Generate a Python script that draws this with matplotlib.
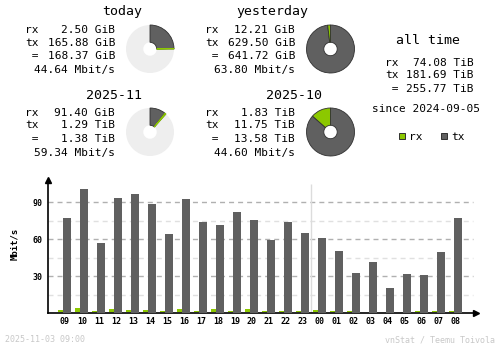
#!/usr/bin/env python
import matplotlib
matplotlib.use('Agg')
import matplotlib.pyplot as plt
from matplotlib.patches import Wedge, Rectangle

# hourly traffic, Mbit/s
hours = ['09', '10', '11', '12', '13', '14', '15', '16', '17', '18', '19', '20',
         '21', '22', '23', '00', '01', '02', '03', '04', '05', '06', '07', '08']
tx_rate = [77.3, 100.8, 57.0, 93.5, 96.8, 88.6, 64.3, 92.7, 74.1, 71.6, 82.2, 75.7,
           59.7, 74.1, 65.1, 61.1, 50.5, 32.7, 41.6, 20.5, 31.9, 31.1, 49.7, 77.3]
rx_rate = [1.9, 3.5, 1.0, 2.7, 1.9, 1.9, 1.0, 2.7, 1.0, 2.7, 1.0, 2.7,
           1.0, 1.0, 1.0, 1.9, 1.0, 1.0, 0.3, 0.3, 0.3, 1.0, 1.0, 1.0]

# summary blocks: title, rx, tx, total, rate
blk_titles = ['today', 'yesterday', '2025-11', '2025-10']
blk_rx = ['2.50 GiB', '12.21 GiB', '91.40 GiB', '1.83 TiB']
blk_tx = ['165.88 GiB', '629.50 GiB', '1.29 TiB', '11.75 TiB']
blk_total = ['168.37 GiB', '641.72 GiB', '1.38 TiB', '13.58 TiB']
blk_rate = ['44.64 Mbit/s', '63.80 Mbit/s', '59.34 Mbit/s', '44.60 Mbit/s']
# rx/tx in a common unit for the pies, and share of the period covered
pie_rx = [2.50, 12.21, 91.40, 1830.0]
pie_tx = [165.88, 629.50, 1290.0, 11750.0]
pie_fill = [0.25, 1.0, 0.115, 1.0]

alltime_rx = '74.08 TiB'
alltime_tx = '181.69 TiB'
alltime_total = '255.77 TiB'
since = 'since 2024-09-05'
stamp = '2025-11-03 09:00'

c_rx = '#8cc800'
c_tx = '#606060'
c_edge = '#303030'
c_pie_bg = '#eeeeee'
mono = 'DejaVu Sans Mono'
plt.rcParams['lines.scale_dashes'] = False

fig = plt.figure(figsize=(5.0, 3.48), dpi=100)
fig.patch.set_facecolor('white')

# overlay in pixel coordinates (y down) for text, pies and legend
ov = fig.add_axes([0, 0, 1, 1])
ov.set_xlim(0, 500)
ov.set_ylim(348, 0)
ov.axis('off')


def draw_pie(cx, cy, rx, tx, fill):
    r, hole = 24, 6.7
    if fill < 1.0:
        ov.add_patch(Wedge((cx, cy), r, 0, 360, width=r - hole,
                           facecolor=c_pie_bg, edgecolor='none'))
    span = 360.0 * fill
    tx_span = span * tx / (rx + tx)
    # clockwise from 12 o'clock (y axis is flipped, so data angles run ccw)
    ov.add_patch(Wedge((cx, cy), r, -90, -90 + tx_span, width=r - hole,
                       facecolor=c_tx, edgecolor=c_edge, linewidth=0.6))
    ov.add_patch(Wedge((cx, cy), r, -90 + tx_span, -90 + span, width=r - hole,
                       facecolor=c_rx, edgecolor=c_edge, linewidth=0.6))
    if fill < 1.0:
        ov.add_patch(Wedge((cx, cy), r, -90 + tx_span, -90 + span, width=r - hole,
                           facecolor='none', edgecolor=c_rx, linewidth=0.7))


def draw_block(i, lx, vx, ty, tcx, rows_y, pcx, pcy):
    ov.text(tcx, ty, blk_titles[i], family=mono, fontsize=9.5, ha='center', va='baseline')
    labels = ['rx', 'tx', ' =']
    vals = [blk_rx[i], blk_tx[i], blk_total[i]]
    for lab, val, y in zip(labels, vals, rows_y[:3]):
        ov.text(lx, y, lab, family=mono, fontsize=8, ha='left', va='baseline')
        ov.text(vx, y, val, family=mono, fontsize=8, ha='right', va='baseline')
    ov.text(vx, rows_y[3], blk_rate[i], family=mono, fontsize=8, ha='right', va='baseline')
    draw_pie(pcx, pcy, pie_rx[i], pie_tx[i], pie_fill[i])


top_rows = [33.3, 45.7, 59, 73]
mid_rows = [116, 128.3, 141.7, 156]
draw_block(0, 25, 115, 15.5, 122, top_rows, 150, 49)
draw_block(1, 205, 295, 15.5, 272, top_rows, 330.5, 49)
draw_block(2, 25, 115, 99.3, 114, mid_rows, 150, 132)
draw_block(3, 205, 295, 99.3, 294, mid_rows, 330.5, 132)

# all time column
ov.text(428, 44, 'all time', family=mono, fontsize=9.5, ha='center', va='baseline')
for lab, val, y in zip(['rx', 'tx', ' ='], [alltime_rx, alltime_tx, alltime_total],
                       [65.7, 78.3, 91.7]):
    ov.text(385, y, lab, family=mono, fontsize=8, ha='left', va='baseline')
    ov.text(474, y, val, family=mono, fontsize=8, ha='right', va='baseline')
ov.text(426.5, 112, since, family=mono, fontsize=8, ha='center', va='baseline')

# legend
ov.add_patch(Rectangle((398.5, 132.7), 6.5, 6.5, facecolor=c_rx, edgecolor=c_edge, linewidth=0.7))
ov.text(409, 140, 'rx', family=mono, fontsize=8, ha='left', va='baseline')
ov.add_patch(Rectangle((440.5, 132.7), 6.5, 6.5, facecolor=c_tx, edgecolor=c_edge, linewidth=0.7))
ov.text(451, 140, 'tx', family=mono, fontsize=8, ha='left', va='baseline')

# axis label and footer
ov.text(15, 243.5, 'Mbit/s', family=mono, fontsize=6.5, weight='bold', rotation=90,
        ha='center', va='center')
ov.text(5, 340, stamp, family=mono, fontsize=6, color='#c8c8c8', ha='left', va='center')
ov.text(495, 340, 'vnStat / Teemu Toivola', family=mono, fontsize=6, color='#c8c8c8',
        ha='right', va='center')

# hourly bar chart
ax = fig.add_axes([48 / 500, (348 - 313.3) / 348, 428 / 500, 133.3 / 348])
ax.patch.set_alpha(0)
x = list(range(len(hours)))
ax.set_xlim(-1.0, 24.18)
ax.set_ylim(0, 108)

for y in [15, 45, 75]:
    ax.hlines(y, -1.0, 24.0, color='#e0e0e0', linewidth=1, linestyles=(0, (3.6, 2.9)), zorder=0)
for y in [30, 60, 90]:
    ax.hlines(y, -1.0, 24.0, color='#b0b0b0', linewidth=1, linestyles=(0, (3.6, 2.9)), zorder=0)
ax.vlines(14.5, 0, 105, color='#dcdcdc', linewidth=1, zorder=0)

# bars sit on top of the axis line
ax.bar([v - 0.41 for v in x], rx_rate, width=0.29, align='edge', color=c_rx,
       bottom=0.7, zorder=3, linewidth=0)
ax.bar([v - 0.09 for v in x], tx_rate, width=0.47, align='edge', color=c_tx,
       zorder=3, linewidth=0)

for s in ['top', 'right']:
    ax.spines[s].set_visible(False)
for s in ['left', 'bottom']:
    ax.spines[s].set_linewidth(1.2)
    ax.spines[s].set_color('black')

ax.set_xticks(x)
ax.set_xticklabels(hours, family=mono, fontsize=6, weight='bold')
ax.set_yticks([30, 60, 90])
ax.set_yticklabels(['30', '60', '90'], family=mono, fontsize=6, weight='bold')
ax.tick_params(axis='x', length=0, pad=3)
ax.tick_params(axis='y', length=0, pad=4)

# axis arrows
ax.plot([1.0], [0], marker='>', color='black', markersize=4, transform=ax.transAxes, clip_on=False)
ax.plot([0], [1.0], marker='^', color='black', markersize=4, transform=ax.transAxes, clip_on=False)

plt.savefig('out.png', dpi=100)
plt.close()
